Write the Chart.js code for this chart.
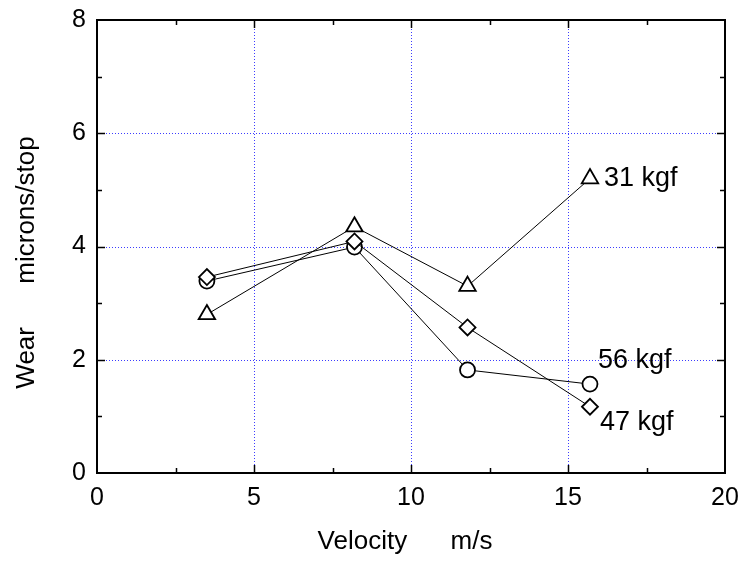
<!DOCTYPE html>
<html>
<head>
<meta charset="utf-8">
<script src="https://cdn.jsdelivr.net/npm/chart.js@4/dist/chart.umd.min.js"></script>
<style>
  html, body { margin: 0; padding: 0; background: #fff; }
  #wrap { width: 741px; height: 561px; }
</style>
</head>
<body>
<div id="wrap"><canvas id="c" width="741" height="561"></canvas></div>
<script>
// ---- data ----
const seriesNames = ["31 kgf", "47 kgf", "56 kgf"];
const velocity31 = [3.5, 8.2, 11.8, 15.7];
const wear31     = [2.80, 4.35, 3.30, 5.20];
const velocity47 = [3.5, 8.2, 11.8, 15.7];
const wear47     = [3.46, 4.09, 2.57, 1.17];
const velocity56 = [3.5, 8.2, 11.8, 15.7];
const wear56     = [3.39, 3.99, 1.82, 1.57];
const xTicks = [0, 5, 10, 15, 20];
const yTicks = [0, 2, 4, 6, 8];
const xTitle = "Velocity\u00a0\u00a0\u00a0\u00a0\u00a0\u00a0m/s";
const yTitle = "Wear\u00a0\u00a0\u00a0\u00a0\u00a0\u00a0microns/stop";

const FONT = '"Liberation Sans", Arial, Helvetica, sans-serif';
const pts = (xs, ys) => xs.map((x, i) => ({ x: x, y: ys[i] }));

const frameTicks = {
  id: 'frameTicks',
  beforeDatasetsDraw(chart) {
    const { ctx, chartArea: a, scales: { x, y } } = chart;
    ctx.save();
    // dotted blue grid at inner major ticks
    ctx.strokeStyle = '#3c3cff';
    ctx.lineWidth = 1;
    ctx.setLineDash([1, 2]);
    ctx.beginPath();
    x.ticks.forEach(t => {
      if (t.value === x.min || t.value === x.max) return;
      const px = Math.round(x.getPixelForValue(t.value)) + 0.5;
      ctx.moveTo(px, a.top); ctx.lineTo(px, a.bottom);
    });
    y.ticks.forEach(t => {
      if (t.value === y.min || t.value === y.max) return;
      const py = Math.round(y.getPixelForValue(t.value)) + 0.5;
      ctx.moveTo(a.left, py); ctx.lineTo(a.right, py);
    });
    ctx.stroke();
    ctx.setLineDash([]);
    // frame
    ctx.strokeStyle = '#000';
    ctx.lineWidth = 2;
    ctx.strokeRect(a.left, a.top, a.right - a.left, a.bottom - a.top);
    // inward ticks
    ctx.lineWidth = 1.5;
    ctx.beginPath();
    for (let v = x.min + 2.5; v < x.max; v += 2.5) {
      const px = Math.round(x.getPixelForValue(v)) + 0.5;
      const len = (v % 5 === 0) ? 8 : 5;
      ctx.moveTo(px, a.bottom); ctx.lineTo(px, a.bottom - len);
      ctx.moveTo(px, a.top); ctx.lineTo(px, a.top + len);
    }
    for (let v = y.min + 1; v < y.max; v += 1) {
      const py = Math.round(y.getPixelForValue(v)) + 0.5;
      const len = (v % 2 === 0) ? 8 : 5;
      ctx.moveTo(a.left, py); ctx.lineTo(a.left + len, py);
      ctx.moveTo(a.right, py); ctx.lineTo(a.right - len, py);
    }
    ctx.stroke();
    ctx.restore();
  }
};

const extraText = {
  id: 'extraText',
  afterDraw(chart, args, opts) {
    const { ctx, chartArea: a, scales: { x, y } } = chart;
    ctx.save();
    ctx.fillStyle = '#000';
    ctx.font = '27px ' + FONT;
    ctx.textBaseline = 'middle';
    ctx.textAlign = 'left';
    chart.data.datasets.forEach((ds, i) => {
      const last = ds.data[ds.data.length - 1];
      const off = opts.offsets[i];
      ctx.fillText(ds.label, x.getPixelForValue(last.x) + off[0], y.getPixelForValue(last.y) + off[1]);
    });
    // axis titles
    ctx.font = '26px ' + FONT;
    ctx.textAlign = 'center';
    ctx.fillText(xTitle, (a.left + a.right) / 2 - 6, 542);
    ctx.translate(27, (a.top + a.bottom) / 2 + 16);
    ctx.rotate(-Math.PI / 2);
    ctx.fillText(yTitle, 0, 0);
    ctx.restore();
  }
};

new Chart(document.getElementById('c'), {
  type: 'scatter',
  data: {
    datasets: [
      { label: seriesNames[0], data: pts(velocity31, wear31), pointStyle: 'triangle', pointRadius: 9.5 },
      { label: seriesNames[1], data: pts(velocity47, wear47), pointStyle: 'rectRot', pointRadius: 8 },
      { label: seriesNames[2], data: pts(velocity56, wear56), pointStyle: 'circle', pointRadius: 7.5 }
    ].map(d => Object.assign(d, {
      showLine: true,
      borderColor: '#000',
      borderWidth: 1,
      pointBorderColor: '#000',
      pointBackgroundColor: '#fff',
      pointBorderWidth: 1.8,
      pointHoverRadius: d.pointRadius
    }))
  },
  options: {
    responsive: false,
    animation: false,
    events: [],
    layout: { padding: { top: 20, right: 16, left: 0, bottom: 0 } },
    plugins: {
      legend: { display: false },
      tooltip: { enabled: false },
      extraText: { offsets: [[14, 0], [10, 16], [8, -24]] }
    },
    scales: {
      x: {
        type: 'linear', min: 0, max: 20,
        afterBuildTicks: (s) => { s.ticks = xTicks.map(v => ({ value: v })); },
        afterFit: (s) => { s.height = 88; s.paddingLeft = 0; s.paddingRight = 0; },
        ticks: { color: '#000', font: { size: 25, family: FONT }, padding: 10, maxRotation: 0 },
        grid: { display: false, drawTicks: false },
        border: { display: false }
      },
      y: {
        type: 'linear', min: 0, max: 8,
        afterBuildTicks: (s) => { s.ticks = yTicks.map(v => ({ value: v })); },
        afterFit: (s) => { s.width = 97; s.paddingTop = 0; s.paddingBottom = 0; },
        ticks: { color: '#000', font: { size: 25, family: FONT }, padding: 11 },
        grid: { display: false, drawTicks: false },
        border: { display: false }
      }
    }
  },
  plugins: [frameTicks, extraText]
});
</script>
</body>
</html>
